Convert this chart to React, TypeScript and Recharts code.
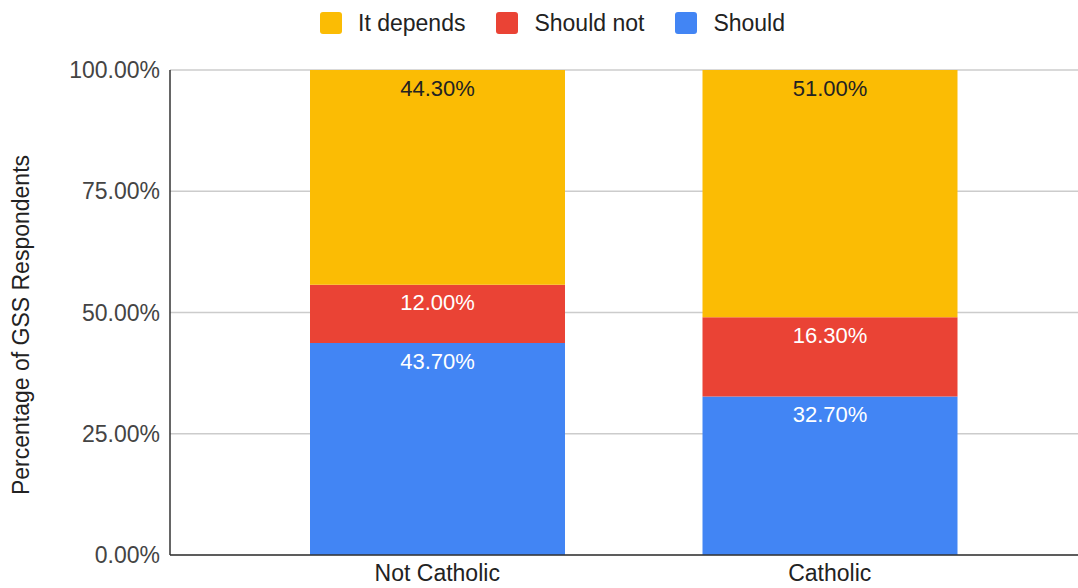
import { Bar, BarChart, CartesianGrid, LabelList, XAxis, YAxis } from 'recharts';

const categories = ['Not Catholic', 'Catholic'];
const should = [43.7, 32.7];
const shouldNot = [12.0, 16.3];
const itDepends = [44.3, 51.0];
const yTicks = [0, 25, 50, 75, 100];

const data = categories.map((name, i) => ({
  name,
  should: should[i],
  shouldNot: shouldNot[i],
  itDepends: itDepends[i],
}));

const FONT = '"Liberation Sans", Arial, sans-serif';
const pct = (v: number) => `${Number(v).toFixed(2)}%`;

const legendItems = [
  { label: 'It depends', color: '#FBBC04' },
  { label: 'Should not', color: '#EA4335' },
  { label: 'Should', color: '#4285F4' },
];

export default function App() {
  return (
    <div style={{ position: 'absolute', left: 0, top: 0, width: 1078, height: 588, fontFamily: FONT, background: '#fff' }}>
      <div style={{ position: 'absolute', top: 11, left: 320, display: 'flex', gap: 31 }}>
        {legendItems.map(it => (
          <div key={it.label} style={{ display: 'flex', alignItems: 'center', fontSize: 23, color: '#222', height: 24 }}>
            <span style={{ width: 22, height: 22, borderRadius: 3, background: it.color, marginRight: 16, display: 'inline-block' }} />
            {it.label}
          </div>
        ))}
      </div>
      <div style={{ position: 'absolute', left: 21, top: 325, transform: 'translate(-50%, -50%) rotate(-90deg)', whiteSpace: 'nowrap', fontSize: 23, color: '#222' }}>
        Percentage of GSS Respondents
      </div>
      <BarChart width={1078} height={588} data={data} margin={{ top: 70, right: 0, bottom: 0, left: 0 }} barSize={255}>
        <CartesianGrid vertical={false} stroke="#cccccc" strokeWidth={1.5} />
        <XAxis
          dataKey="name"
          height={33}
          padding={{ left: 71, right: 52 }}
          tickLine={false}
          axisLine={{ stroke: '#333', strokeWidth: 1.5 }}
          tickMargin={4}
          tick={{ fill: '#222', fontSize: 23, fontFamily: FONT }}
        />
        <YAxis
          width={170}
          domain={[0, 100]}
          ticks={yTicks}
          interval={0}
          tickFormatter={pct}
          tickLine={false}
          axisLine={{ stroke: '#333', strokeWidth: 1.5 }}
          tickMargin={4}
          tick={{ fill: '#444', fontSize: 23, fontFamily: FONT }}
        />
        <Bar dataKey="should" stackId="a" fill="#4285F4" isAnimationActive={false}>
          <LabelList dataKey="should" position="insideTop" offset={10} formatter={pct} fill="#ffffff" fontSize={22} fontFamily={FONT} />
        </Bar>
        <Bar dataKey="shouldNot" stackId="a" fill="#EA4335" isAnimationActive={false}>
          <LabelList dataKey="shouldNot" position="insideTop" offset={10} formatter={pct} fill="#ffffff" fontSize={22} fontFamily={FONT} />
        </Bar>
        <Bar dataKey="itDepends" stackId="a" fill="#FBBC04" isAnimationActive={false}>
          <LabelList dataKey="itDepends" position="insideTop" offset={10} formatter={pct} fill="#222222" fontSize={22} fontFamily={FONT} />
        </Bar>
      </BarChart>
    </div>
  );
}
